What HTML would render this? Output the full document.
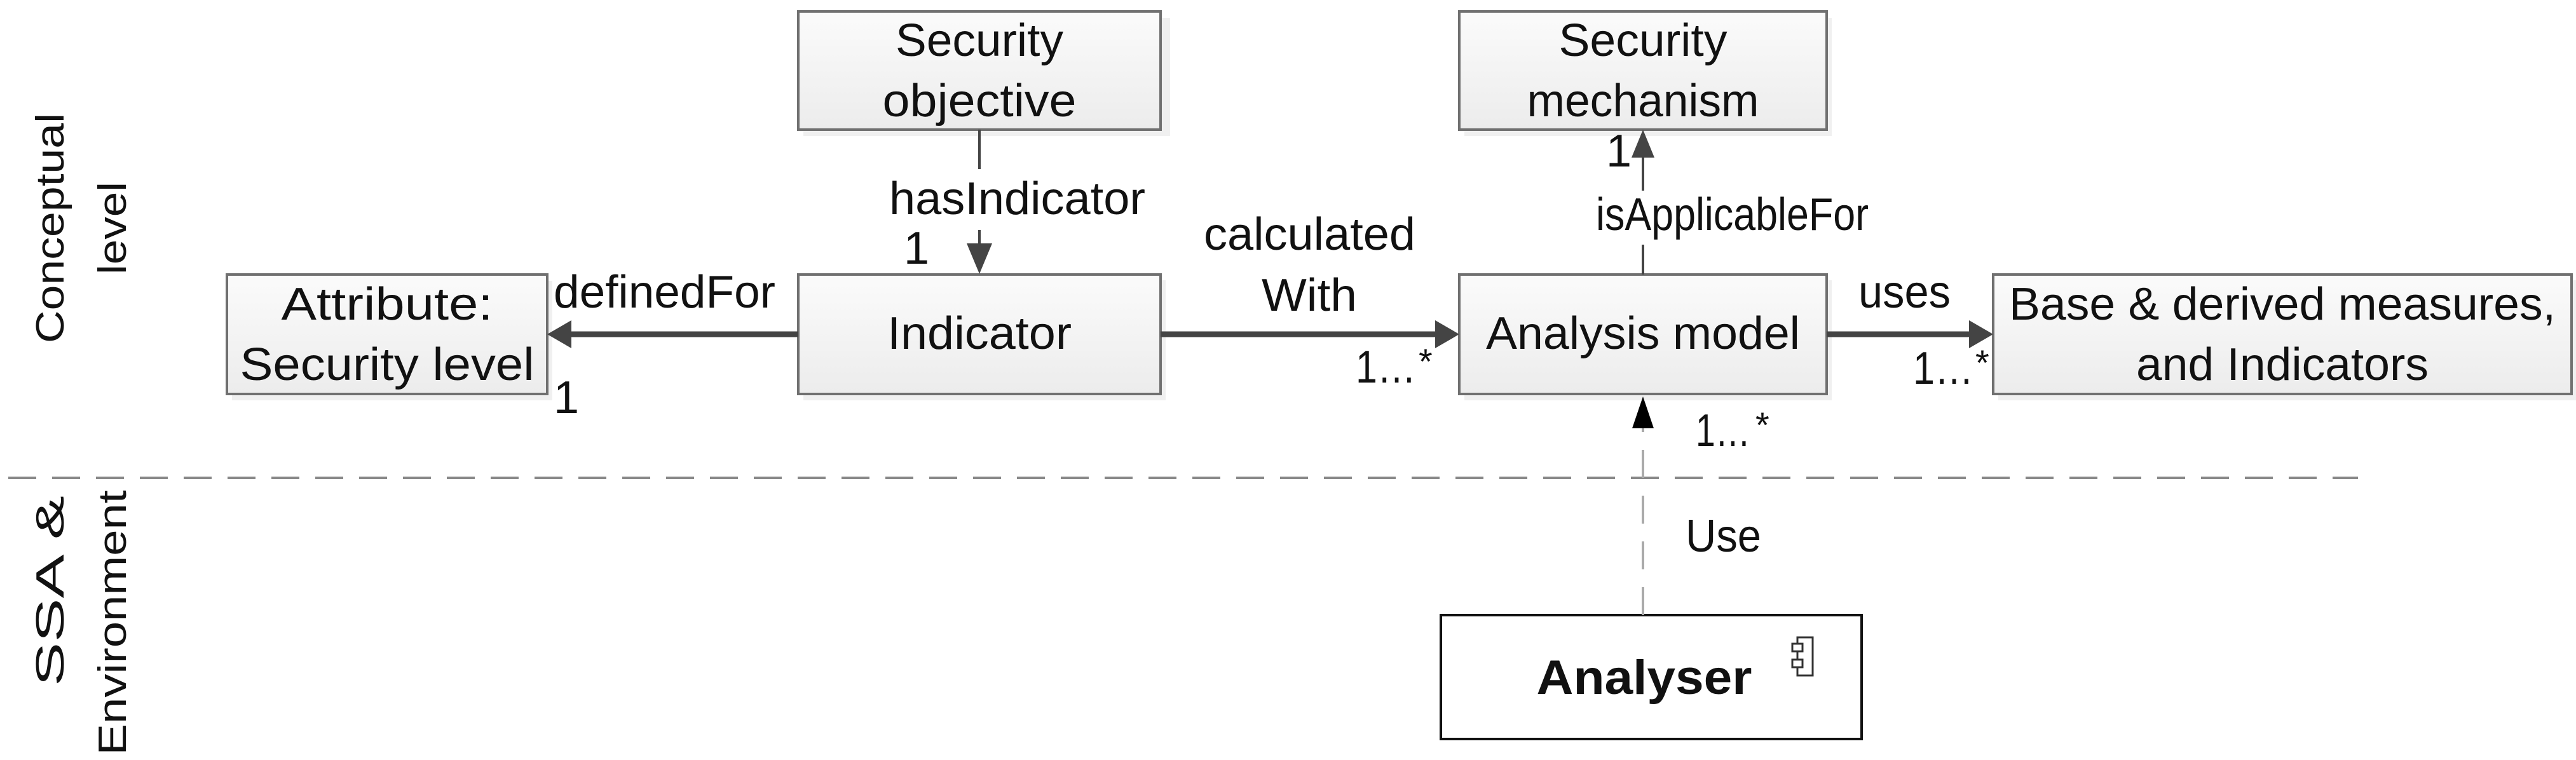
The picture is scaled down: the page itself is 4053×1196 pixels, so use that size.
<!DOCTYPE html>
<html><head><meta charset="utf-8"><style>
html,body{margin:0;padding:0;background:#fff;}
svg{display:block;}
text{font-family:"Liberation Sans Narrow","Liberation Sans",sans-serif;fill:#111;}
</style></head><body>
<svg width="4053" height="1196" viewBox="0 0 4053 1196" xmlns="http://www.w3.org/2000/svg">
<defs>
<linearGradient id="g" x1="0" y1="0" x2="0" y2="1">
<stop offset="0" stop-color="#fbfbfb"/><stop offset="1" stop-color="#ececec"/>
</linearGradient>
</defs>
<g fill="#f0f0f0">
<rect x="1264" y="28" width="577" height="186"/>
<rect x="2304" y="28" width="578" height="186"/>
<rect x="365" y="442" width="504" height="188"/>
<rect x="1264" y="441" width="570" height="189"/>
<rect x="2304" y="441" width="578" height="189"/>
<rect x="3144" y="441" width="910" height="189"/>
</g>
<g fill="url(#g)" stroke="#707070" stroke-width="4">
<rect x="1256" y="18" width="570" height="186"/>
<rect x="2296" y="18" width="578" height="186"/>
<rect x="357" y="432" width="504" height="188"/>
<rect x="1256" y="432" width="570" height="188"/>
<rect x="2296" y="432" width="578" height="188"/>
<rect x="3136" y="432" width="910" height="188"/>
</g>
<rect x="2267" y="968" width="662" height="195" fill="#fff" stroke="#111" stroke-width="4"/>
<g fill="#fff" stroke="#333" stroke-width="3">
<rect x="2828" y="1003" width="24" height="60"/>
<rect x="2820" y="1013" width="16" height="12"/>
<rect x="2820" y="1038" width="16" height="12"/>
</g>
<line x1="13" y1="752" x2="3710" y2="752" stroke="#888" stroke-width="4" stroke-dasharray="44 25"/>
<g stroke="#444" fill="none">
<line x1="1541" y1="204" x2="1541" y2="266" stroke-width="4"/>
<line x1="1541" y1="362" x2="1541" y2="400" stroke-width="4"/>
<line x1="1256" y1="526" x2="895" y2="526" stroke-width="9"/>
<line x1="1826" y1="526" x2="2262" y2="526" stroke-width="9"/>
<line x1="2874" y1="526" x2="3100" y2="526" stroke-width="9"/>
<line x1="2585" y1="432" x2="2585" y2="385" stroke-width="4"/>
<line x1="2585" y1="300" x2="2585" y2="245" stroke-width="4"/>
</g>
<line x1="2585" y1="968" x2="2585" y2="670" stroke="#aaa" stroke-width="4" stroke-dasharray="44 28"/>
<g fill="#444">
<polygon points="1541,431 1521,383 1561,383"/>
<polygon points="861,526 899,504 899,548"/>
<polygon points="2296,526 2258,504 2258,548"/>
<polygon points="3136,526 3098,504 3098,548"/>
<polygon points="2585,204 2567,248 2603,248"/>
</g>
<polygon points="2585,624 2568,674 2602,674" fill="#000"/>
<g font-size="72" text-anchor="middle">
<text x="1541" y="88" textLength="264" lengthAdjust="spacingAndGlyphs">Security</text>
<text x="1541" y="183" textLength="305" lengthAdjust="spacingAndGlyphs">objective</text>
<text x="2585" y="88" textLength="265" lengthAdjust="spacingAndGlyphs">Security</text>
<text x="2585" y="183" textLength="365" lengthAdjust="spacingAndGlyphs">mechanism</text>
<text x="609" y="503" textLength="333" lengthAdjust="spacingAndGlyphs">Attribute:</text>
<text x="609" y="598" textLength="463" lengthAdjust="spacingAndGlyphs">Security level</text>
<text x="1541" y="549" textLength="290" lengthAdjust="spacingAndGlyphs">Indicator</text>
<text x="2585" y="549" textLength="494" lengthAdjust="spacingAndGlyphs">Analysis model</text>
<text x="3591" y="503" textLength="860" lengthAdjust="spacingAndGlyphs">Base &amp; derived measures,</text>
<text x="3591" y="598" textLength="460" lengthAdjust="spacingAndGlyphs">and Indicators</text>
</g>
<text x="2587" y="1092" font-size="76" font-weight="bold" text-anchor="middle" font-family="Liberation Sans, sans-serif" textLength="339" lengthAdjust="spacingAndGlyphs">Analyser</text>
<g font-size="72">
<text x="1399" y="337" textLength="403" lengthAdjust="spacingAndGlyphs">hasIndicator</text>
<text x="1422" y="415">1</text>
<text x="871" y="484" textLength="349" lengthAdjust="spacingAndGlyphs">definedFor</text>
<text x="871" y="650">1</text>
<text x="1894" y="393" textLength="333" lengthAdjust="spacingAndGlyphs">calculated</text>
<text x="1985" y="489" textLength="150" lengthAdjust="spacingAndGlyphs">With</text>
<text x="2133" y="602" textLength="95" lengthAdjust="spacingAndGlyphs">1…</text>
<text x="2232" y="588" font-size="56">*</text>
<text x="2511" y="362" textLength="429" lengthAdjust="spacingAndGlyphs">isApplicableFor</text>
<text x="2527" y="262">1</text>
<text x="2924" y="484" textLength="145" lengthAdjust="spacingAndGlyphs">uses</text>
<text x="3010" y="604" textLength="95" lengthAdjust="spacingAndGlyphs">1…</text>
<text x="3108" y="590" font-size="56">*</text>
<text x="2668" y="702" textLength="86" lengthAdjust="spacingAndGlyphs">1…</text>
<text x="2762" y="688" font-size="56">*</text>
<text x="2652" y="868" textLength="119" lengthAdjust="spacingAndGlyphs">Use</text>
</g>
<g font-size="62" text-anchor="middle" font-family="DejaVu Sans, sans-serif" fill="#222">
<text transform="translate(100,359) rotate(-90)" textLength="362" lengthAdjust="spacingAndGlyphs">Conceptual</text>
<text transform="translate(198,359) rotate(-90)" textLength="146" lengthAdjust="spacingAndGlyphs">level</text>
<text transform="translate(100,930) rotate(-90)" textLength="300" lengthAdjust="spacingAndGlyphs">SSA &amp;</text>
<text transform="translate(198,980) rotate(-90)" textLength="417" lengthAdjust="spacingAndGlyphs">Environment</text>
</g>
</svg>
</body></html>
